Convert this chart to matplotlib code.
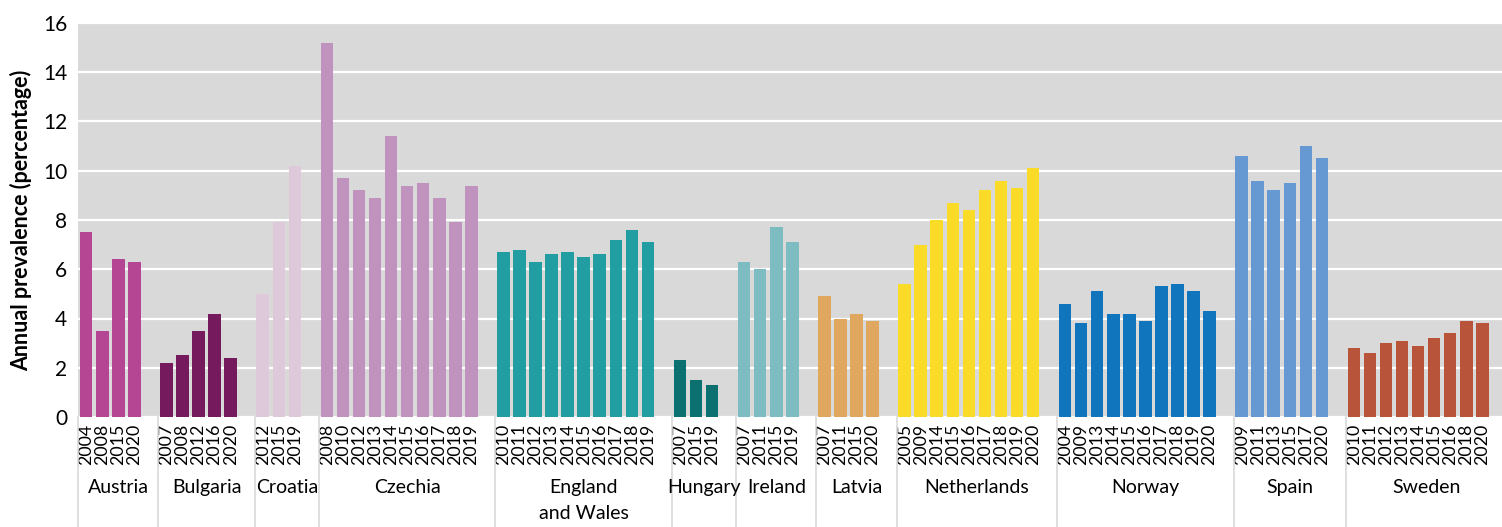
import matplotlib.pyplot as plt
import matplotlib.transforms as mtransforms

countries = ["Austria", "Bulgaria", "Croatia", "Czechia", "England\nand Wales", "Hungary",
             "Ireland", "Latvia", "Netherlands", "Norway", "Spain", "Sweden"]

years = [
    [2004, 2008, 2015, 2020],
    [2007, 2008, 2012, 2016, 2020],
    [2012, 2015, 2019],
    [2008, 2010, 2012, 2013, 2014, 2015, 2016, 2017, 2018, 2019],
    [2010, 2011, 2012, 2013, 2014, 2015, 2016, 2017, 2018, 2019],
    [2007, 2015, 2019],
    [2007, 2011, 2015, 2019],
    [2007, 2011, 2015, 2020],
    [2005, 2009, 2014, 2015, 2016, 2017, 2018, 2019, 2020],
    [2004, 2009, 2013, 2014, 2015, 2016, 2017, 2018, 2019, 2020],
    [2009, 2011, 2013, 2015, 2017, 2020],
    [2010, 2011, 2012, 2013, 2014, 2015, 2016, 2018, 2020],
]

prevalence = [
    [7.5, 3.5, 6.4, 6.3],
    [2.2, 2.5, 3.5, 4.2, 2.4],
    [5.0, 7.9, 10.2],
    [15.2, 9.7, 9.2, 8.9, 11.4, 9.4, 9.5, 8.9, 7.9, 9.4],
    [6.7, 6.8, 6.3, 6.6, 6.7, 6.5, 6.6, 7.2, 7.6, 7.1],
    [2.3, 1.5, 1.3],
    [6.3, 6.0, 7.7, 7.1],
    [4.9, 4.0, 4.2, 3.9],
    [5.4, 7.0, 8.0, 8.7, 8.4, 9.2, 9.6, 9.3, 10.1],
    [4.6, 3.8, 5.1, 4.2, 4.2, 3.9, 5.3, 5.4, 5.1, 4.3],
    [10.6, 9.6, 9.2, 9.5, 11.0, 10.5],
    [2.8, 2.6, 3.0, 3.1, 2.9, 3.2, 3.4, 3.9, 3.8],
]

colors = ["#b54694", "#751a5c", "#dec9db", "#c092be", "#229ea3", "#0c7070",
          "#7dbdc2", "#e0a85e", "#f9db28", "#1075bc", "#6699d2", "#b7543a"]

plt.rcParams['font.family'] = ['Lato', 'DejaVu Sans']

fig = plt.figure(figsize=(15.02, 5.27), dpi=100)
# plot area runs slightly past the right edge (cropped like the original)
ax = fig.add_axes([78.2 / 1502, 110 / 527, 1428.2 / 1502, 394 / 527])
ax.set_facecolor("#d9d9d9")

xticks = []
xlabels = []
starts = []
pos = 0
for yrs, vals, col in zip(years, prevalence, colors):
    starts.append(pos)
    xs = list(range(pos, pos + len(yrs)))
    ax.bar(xs, vals, width=0.78, color=col, zorder=3)
    xticks += xs
    xlabels += [str(y) for y in yrs]
    pos += len(yrs) + 1

ax.set_xlim(-0.5, pos - 0.5)
ax.set_ylim(0, 16)
ax.set_yticks(range(0, 17, 2))
ax.yaxis.grid(True, color="white", linewidth=1.6, zorder=0)
ax.set_axisbelow(True)

ax.set_xticks(xticks)
ax.set_xticklabels(xlabels, rotation=90, fontsize=12.8)
ax.tick_params(axis="x", length=0, pad=5)
ax.tick_params(axis="y", length=0, pad=8, labelsize=15)
for s in ax.spines.values():
    s.set_visible(False)

ax.set_ylabel("Annual prevalence (percentage)", fontsize=15.5, fontweight="bold", labelpad=8)

# group separators and country names under the axis
trans = mtransforms.blended_transform_factory(ax.transData, ax.transAxes)
for name, st, yrs in zip(countries, starts, years):
    ax.plot([st - 0.5, st - 0.5], [0, -0.3], color="#d9d9d9", linewidth=1.2,
            transform=trans, clip_on=False)
    for k, line in enumerate(name.split("\n")):
        ax.text(st + len(yrs) / 2, (-76 - 26 * k) / 394, line, transform=trans,
                ha="center", va="baseline", fontsize=14)

fig.savefig("out.png", dpi=100)
